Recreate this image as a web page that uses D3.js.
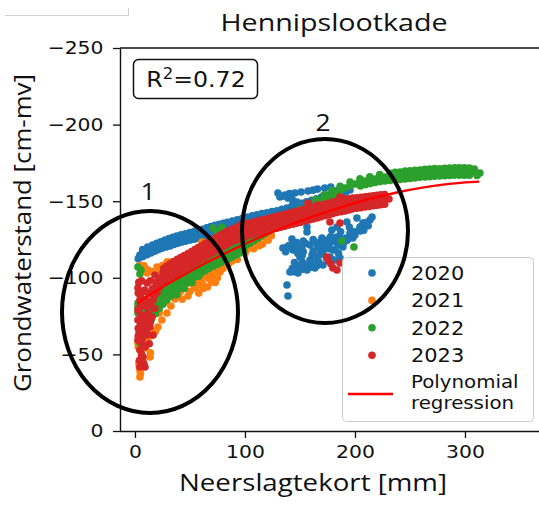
<!DOCTYPE html>
<html>
<head>
<meta charset="utf-8">
<script src="https://cdn.jsdelivr.net/npm/d3@7"></script>
<style>
  html, body { margin: 0; padding: 0; background: #fff; }
  svg { display: block; }
</style>
</head>
<body>
<svg id="chart" width="539" height="505"></svg>
<script>
// ---- Data -------------------------------------------------------------
const title = "Hennipslootkade";
const xLabel = "Neerslagtekort [mm]";
const yLabel = "Grondwaterstand [cm-mv]";
const xTicks = [0, 100, 200, 300];
const yTicks = [0, -50, -100, -150, -200, -250];
const years = ["2020", "2021", "2022", "2023"];
const yearColors = ["#1f77b4", "#ff7f0e", "#2ca02c", "#d62728"];
const rSquared = "0.72";

// [neerslagtekort (mm), grondwaterstand (cm-mv)]
const points2020 = [
  [4.5,-114.9],[9.1,-117.5],[13.6,-118.8],[20,-120.1],[27.3,-122.1],[34.5,-123.4],[41.8,-125.3],[50,-126.6],[57.3,-127.9],[65.5,-129.2],
  [72.7,-131.2],[80,-132.5],[88.2,-133.8],[98.2,-135.8],[106.4,-137.7],[115.5,-139],[124.5,-140.3],[133.6,-141.6],[142.7,-143.6],
  [151.8,-145.6],[160.9,-147.5],[170,-149.5],[179,-152],[188,-154.7],[195.5,-157.3],
  [6.8,-116.2],[11.4,-118.1],[16.8,-119.5],[23.6,-121.1],[30.9,-122.8],[38.2,-124.4],[45.9,-126],[53.6,-127.3],[61.4,-128.6],[69.1,-130.2],
  [76.4,-131.9],[84.1,-133.2],[93.2,-134.8],[102.3,-136.8],[111,-138.4],[120,-139.7],[129,-141],[138.2,-142.6],[147.3,-144.6],
  [156.4,-146.6],[165.5,-148.5],[174.5,-150.8],[183.5,-153.4],[191.8,-156],
  [7,-118.5],[16,-121.4],[23.5,-123.5],[31,-125.6],[38,-127.2],[46,-128.8],[54,-130.3],[61.5,-131.7],[69,-133.4],[76.5,-135],
  [84,-136.2],[93,-137.8],[102,-139.6],[111,-141.2],[120,-142.5],[129,-143.8],[138,-145.5],[147,-147.6],[156,-149.6],[165,-151.6],
  [174.5,-154],[183.5,-156.8],
  [11.5,-120],[19.8,-122.5],[27.3,-124.6],[34.5,-126.4],[42,-128],[50,-129.6],[57.8,-131],[65.3,-132.6],[72.8,-134.2],[80.3,-135.6],
  [88.5,-137],[97.5,-138.7],[106.5,-140.4],[115.5,-141.9],[124.5,-143.2],[133.5,-144.7],[142.5,-146.6],[151.5,-148.6],[160.5,-150.6],
  [169.8,-152.8],[179,-155.4],
  [3,-112.5],[11,-115],[18,-117.3],[25,-119.4],[32,-120.8],[39,-122.6],[46,-123.9],[54,-125.2],[61,-126.4],[69,-128],[76,-129.5],
  [84,-130.8],[92,-132.1],[101,-133.6],
  [7,-113.8],[14.5,-116.2],[21.5,-118.4],[28.5,-120.1],[35.5,-121.7],[42.5,-123.3],[50,-124.6],[57.5,-125.8],[65,-127.2],[72.5,-128.8],
  [80,-130.2],[88,-131.5],[96.5,-132.9],
  [130,-155.4],[145.5,-155.4],[157.3,-156.7],[166,-157.9],[172.5,-158.6],[178,-159.3],[131.8,-152.7],[139,-152.1],[147.3,-149.5],
  [156.4,-147.5],[136.5,-154],[140.5,-155],[151,-156],[162,-157.2],[134,-153.2],[152,-148.5],[143,-151],
  [156.4,-133.2],[156.4,-129.9],[142.7,-125.3],[138.2,-120.1],[143.6,-118.1],[151.8,-120.1],[159.1,-121.4],[168.2,-123.4],[177.3,-126],
  [183.6,-126.6],[150,-113.6],[159.1,-111.6],[165.5,-113.6],[170.9,-116.2],[156.4,-108.4],[147.3,-107],[140.9,-103.8],[148.2,-103.1],
  [156.4,-105.1],[163.6,-106.4],[170.9,-108.4],[179,-111.6],[186.4,-112.9],[138.2,-95.3],[139.1,-88.1],[134.5,-119.5],
  [177.3,-122.7],[186.4,-126],[195.5,-129.2],[204.5,-133.2],[213.6,-137.7],[215.5,-139.7],[180,-118.1],[189,-120.1],[179,-131.2],
  [183.6,-133.2],[192.7,-136.4],[201.8,-139],[177.3,-113.6],[181.8,-111.6],[207.3,-135.8],
  [145,-122],[148,-116],[153,-117],[162,-117.5],[166,-120],[173,-120.5],[145,-110],[152,-110.5],[160,-109],[167,-110.5],[174,-113],
  [137,-117],[190,-123],[198,-126],[208,-131],[212,-134],[174,-124.5],[187,-130],[195,-133],
  [143,-106],[150,-108],[161,-112],[168,-115],[176,-119],[184,-122.5],[192,-126],[200,-130],[206,-133.5],[210,-136],
  [140,-121],[147,-123],[153,-124],[162,-125],[170,-126],[178,-127],
  [144,-104],[152,-105.5],[160,-107],[166,-108.2],[152,-114.5],[161,-115],[169,-118],[147,-119.5],[155,-122.5],[163,-123.5],
  [171,-121.8],[179,-124],[186,-121.5],[193,-124.5],[200,-128],[205,-130.5],[185,-116],[182,-118.5]
];

const points2021 = [
  [4.5,-35.2],[4.5,-39.8],[3.6,-44.4],[4.5,-52.9],[2.7,-57.4],[9.1,-54.2],[11.8,-60.7],[13.6,-48.3],[7,-46],
  [5,-37.5],[4,-42],[6,-49],[3,-55],[10,-57],[14,-51],[12,-64],
  [16.4,-62.7],[18.5,-65],[20.9,-67.9],[24.5,-72.5],[29.1,-77],[32.7,-81.6],[36.4,-86.2],[40.9,-90.7],[22,-77],[27,-84],
  [9.1,-106.4],[10.9,-103.1],[11.8,-105.1],[22.7,-105.1],[29.1,-110.3],[31.8,-110.3],[29.1,-103.8],[25,-108],[4,-108],
  [8,-108],[15,-104],[20,-107],
  [45.5,-95.3],[50,-99.9],[57.3,-103.8],[63.6,-99.9],[68.2,-105.1],[72.7,-108.4],[77.3,-103.8],[54.5,-93.3],[61.8,-95.3],
  [48.2,-88.1],[70,-97.3],[81.8,-110.3],[86.4,-112.9],[90.9,-114.9],[97.3,-118.1],[104.5,-120.8],[111.8,-123.4],[119.1,-126],
  [42,-92],[52,-96],[58,-90],[66,-94],[75,-100],[80,-106],[85,-109],[93,-112],[100,-116],[108,-119],[116,-122],[37,-96],
  [44,-100],[38,-102],[33,-97],[60.9,-123.4],[65,-122.5],[56.4,-108.4],[29.1,-87.5],[38.2,-95.3],
  [47,-97.5],[53,-102],[60,-106],[65,-103],[71,-101.5],[74,-104.5],[79,-108],[83,-112],[88,-110.8],[95,-116.5],[102,-118.5],
  [106,-122],[113,-121],[121,-124.5],[124,-127.5],[40,-94.5],[35,-92],[50,-91],[56,-95],[62,-93],[68,-99],[73,-97],[59,-98],
  [46,-102],[52,-106],[41,-105],[35,-101],[31,-99],[43,-86],[39,-88]
];

const points2022 = [
  // near-zero deficit
  [2.7,-107],[5.5,-105.1],[4.5,-102.5],[2.7,-80.9],[2.7,-77],[3.6,-64],[4.5,-57.4],[10.9,-75.7],[8,-78],[6,-70],[2.7,-83.5],
  // rising band
  [13.6,-77],[17,-80],[20.5,-83],[24,-86],[27.5,-88.5],[31,-91],[34.5,-93.3],[38,-95.5],[41.5,-97.5],[45,-99.5],[48.5,-101.4],
  [52,-103.2],[55.5,-104.8],[59,-106.3],[62.5,-107.7],[66,-109],[69.5,-110.2],[73,-111.4],[76.5,-112.5],[80,-113.6],[83.5,-114.8],
  [87,-116],[90.5,-117.2],[94,-118.5],[97.5,-119.8],[101,-121.2],[104.5,-122.6],[108,-124.2],[111.5,-125.7],[115,-127.3],
  [118.5,-129],[122,-130.6],
  [15.5,-82],[19,-85],[22.5,-88],[26,-90.8],[29.5,-93.3],[33,-95.6],[36.5,-97.8],[40,-99.9],[43.5,-101.9],[47,-103.8],[50.5,-105.6],
  [54,-107.3],[57.5,-108.9],[61,-110.3],[64.5,-111.7],[68,-113],[71.5,-114.2],[75,-115.4],[78.5,-116.5],[82,-117.6],[85.5,-118.8],
  [89,-120],[92.5,-121.3],[96,-122.6],[99.5,-124],[103,-125.5],[106.5,-127],[110,-128.6],[113.5,-130.3],[117,-132],[120.5,-133.5],
  [15,-73],[18.5,-76.5],[22,-79.8],[25.5,-82.8],[29,-85.5],[32.5,-88],[36,-90.3],[39.5,-92.5],[43,-94.6],[46.5,-96.5],[50,-98.4],
  [53.5,-100.2],[57,-101.9],[60.5,-103.4],[64,-104.8],[67.5,-106.2],[71,-107.5],[74.5,-108.7],[78,-109.9],[81.5,-111.1],
  [85,-112.3],[88.5,-113.6],[92,-114.9],[95.5,-116.3],[99,-117.7],
  [45,-93],[52,-97],[38,-89],[58,-101],
  // upper band towards the largest deficits
  [124.5,-131.9],[128.2,-133.2],[131.8,-134.5],[135.5,-135.8],[139.1,-137.1],[142.8,-138.4],[146.4,-139.7],[150,-141.4],[153.6,-143],
  [157.3,-144.6],[160.9,-146.2],[164.6,-147.9],[168.2,-149.5],[171.9,-151.1],[175.5,-152.7],[179.1,-154],[182.7,-155.4],[186.8,-157],
  [190.9,-158.6],[195.5,-159.9],[200,-161.2],[204.5,-162.2],[209.1,-163.2],[213.7,-163.9],[218.2,-164.5],[222.8,-165.2],
  [227.3,-165.8],[231.9,-166.1],[236.4,-166.4],[241,-166.8],[245.5,-167.1],[250,-167.5],[254.5,-167.8],[259,-168.1],[263.6,-168.4],
  [268.2,-168.4],[272.7,-168.4],[277.3,-168.8],[281.8,-169.1],[286.4,-169.1],[290.9,-169.1],[295.5,-169.1],[300,-169.1],
  [304.5,-169.1],[309.1,-169.1],[313.6,-168.4],
  [128,-136.2],[135.5,-138.8],[142.5,-141.5],[150,-144.5],[157,-147.8],[164.5,-151],[172,-154.2],[179,-157],[186.5,-159.8],
  [195.5,-162.5],[204.5,-164.6],[213.5,-166],[222.5,-167.4],[232,-168.2],[241,-169],[250,-169.8],[259,-170.4],[268,-171],
  [277,-171.2],[286,-171.6],[295,-171.8],[304,-171.6],
  [236.5,-168.8],[245.5,-169.6],[254.5,-170.2],[263.5,-170.8],[272.5,-171.3],[281.5,-171.5],[290.5,-171.8],[299.5,-171.8],[308.5,-171],
  [205,-160],[214,-161.5],[223,-162.8],[232,-163.5],[241,-164.2],[250,-164.8],[259,-165.6],[268,-166],[277,-166.5],[286,-166.8],
  [295,-167],[304,-167],[311,-166.8],
  [209.5,-160.8],[218.5,-162.2],[227.5,-163.2],[236.5,-164],[245.5,-164.5],[254.5,-165.2],[263.5,-165.8],[272.5,-166.3],
  [281.5,-166.6],[290.5,-167],[299.5,-167],
  [70.9,-132.5],[79.1,-133.2],[74.5,-129.9],[188.2,-124],[199.1,-120.1]
];

const points2023 = [
  [2.7,-93.3],[4.5,-85.5],[2.7,-79],[6.4,-74.4],[2.7,-72.5],[10.9,-72.5],[7.3,-67.9],[13.6,-67.9],[4.5,-64],[11.8,-62.7],
  [16.4,-62.7],[9.1,-54.8],[7.3,-48.3],[4.5,-41.8],[9.1,-41.8],[2.7,-59.4],[15.5,-74.4],[10.9,-80.9],[16.4,-85.5],[20,-90.1],
  [22.7,-94],[22.7,-98.6],[18.2,-101.8],[25.5,-103.1],[10.9,-96.6],[6.4,-90.7],[4.5,-81],[4.5,-53],[6,-58],[8,-70],[12,-77],
  [14,-83],[8,-86],[3,-67],[5,-76],[13,-57],[18,-80],[20,-95],[6,-98],[3.5,-97],
  [5,-88],[3,-90],[7,-82],[9,-75],[11,-69],[5,-70],[3,-62],[7,-61],[10,-65],[14,-71],[6,-50],[8,-44],[4,-46],[12,-90],[16,-93],
  [14,-98],[19,-97],[9,-92],[11,-85],[17,-88],
  [22.7,-99.9],[29.1,-103.1],[35.5,-106.4],[41.8,-109],[48.2,-111.6],[54.5,-114.2],[60.9,-116.8],[67.3,-119.5],[73.6,-122.1],
  [80,-124.7],[86.4,-127.3],[92.7,-129.2],[100,-131.2],[107.3,-132.5],[114.5,-133.8],[121.8,-135.1],[129.1,-136.4],[136.4,-137.7],
  [143.6,-139],[150.9,-140.3],[158.2,-141.6],[165.5,-143],[172.7,-144.3],[180,-145.6],[187.3,-146.9],[194.5,-147.5],[201.8,-148.8],
  [209.1,-149.5],[216.4,-150.1],[223.6,-150.8],[230.9,-151.4],
  [25.9,-101.5],[32.3,-104.8],[38.7,-107.7],[45,-110.3],[51.4,-112.9],[57.7,-115.5],[64.1,-118.2],[70.5,-120.8],[76.8,-123.4],
  [83.2,-126],[89.6,-128.3],[96.4,-130.2],[103.7,-131.9],[110.9,-133.2],[118.2,-134.5],[125.5,-135.8],[132.8,-137.1],[140,-138.4],
  [147.3,-139.7],[154.6,-141],[161.9,-142.3],[169.1,-143.7],[176.4,-145],[183.7,-146.3],[190.9,-147.2],[198.2,-148.2],[205.5,-149.2],
  [212.8,-149.8],[220,-150.5],[227.3,-151.1],
  [26,-106],[32,-109.2],[38.5,-112],[45,-114.6],[51.5,-117.2],[57.5,-119.8],[64,-122.4],[70.5,-125],[77,-127.6],[83,-130],
  [89.5,-132.2],[96,-134.2],[103.5,-135.6],[111,-137],[118,-138.2],[125.5,-139.6],[132.5,-140.8],[140,-142.2],[147,-143.4],
  [154.5,-144.8],[162,-146],[169,-147.5],[176.5,-148.8],[183.5,-150],[191,-151],[198,-152],[205.5,-152.6],[213,-153.2],
  [220,-153.8],[227,-154.4],
  [29,-107.6],[35.3,-110.6],[41.8,-113.3],[48.3,-115.9],[54.5,-118.5],[60.8,-121.1],[67.3,-123.7],[73.8,-126.3],[80,-128.8],
  [86.3,-131.1],[92.8,-133.2],[99.8,-134.9],[107.3,-136.3],[114.5,-137.6],[121.8,-138.9],[129,-140.2],[136.3,-141.5],[143.5,-142.8],
  [150.8,-144.1],[158.3,-145.4],[165.5,-146.8],[172.8,-148.2],[180,-149.4],[187.3,-150.5],[194.5,-151.5],[201.8,-152.3],
  [209.3,-152.9],[216.5,-153.5],[223.5,-154.1],
  [26,-97.5],[32,-100.5],[38.5,-103.2],[45,-106],[51.5,-108.5],[57.5,-111],[64,-113.6],[70.5,-116.4],[77,-119],[83,-121.6],
  [89.5,-124],[96,-125.8],[103.5,-127.6],[111,-129.2],[118,-130.6],[125.5,-131.8],[132.5,-133],[140,-134.4],[147,-135.6],
  [154.5,-137],[162,-138.4],[169,-139.8],[176.5,-141.2],[183.5,-142.6],[191,-143.6],[198,-145],[205.5,-145.8],[213,-146.6],
  [220,-147.4],[227,-148],
  [29,-99],[35.3,-101.9],[41.8,-104.6],[48.3,-107.3],[54.5,-109.8],[60.8,-112.3],[67.3,-115],[73.8,-117.7],[80,-120.3],
  [86.3,-122.8],[92.8,-124.9],[99.8,-126.7],[107.3,-128.4],[114.5,-129.9],[121.8,-131.2],[129,-132.4],[136.3,-133.7],[143.5,-135],
  [150.8,-136.3],[158.3,-137.7],[165.5,-139.1],[172.8,-140.5],[180,-141.9],[187.3,-143.1],[194.5,-144.3],[201.8,-145.4],
  [209.3,-146.2],[216.5,-147],[223.5,-147.7],
  [157.3,-148.8],[165.5,-147.5],[186.4,-152.7],[190.9,-151.4],[186.4,-135.8],[177.3,-136.4],
  [174.5,-113.6],[178.2,-109],[183.6,-105.1],[180,-106.4],[186.4,-109.7],[176,-111]
];

// Fitted polynomial regression
const regressionX = [2, 20, 40, 60, 80, 100, 120, 140, 160, 180, 200, 220, 240, 260, 280, 300, 313];
const regressionY = [-83.3, -91.8, -100.1, -108, -115.3, -122.1, -128.4, -134.3, -139.6, -144.4, -148.8, -152.6, -156, -158.7, -160.8, -162.3, -162.8];

const seriesPoints = [points2020, points2021, points2022, points2023];

// ---- Layout -----------------------------------------------------------
const svg = d3.select("#chart");
const plotLeft = 120, plotTop = 48, plotBottom = 431;
const stretch = 1.1;   // horizontal widening applied to the lettering

const x = d3.scaleLinear().domain([-13.6, 380]).range([plotLeft, plotLeft + 393.6 * 1.1]);
const y = d3.scaleLinear().domain([0, -250]).range([plotBottom, plotTop]);

const tickFont = "'DejaVu Sans', sans-serif";
const labelFont = "'Open Sans', 'Noto Sans', sans-serif";

// text placed at (px, py) and widened horizontally around its anchor
function label(parent, px, py, str, font, size, anchor) {
  return parent.append("text")
    .attr("transform", `translate(${px},${py}) scale(${stretch},1)`)
    .attr("text-anchor", anchor || "start")
    .style("font-family", font).style("font-size", size + "px")
    .attr("fill", "#111")
    .text(str);
}

// thin frame remnant in the upper-left corner
svg.append("path")
  .attr("d", "M5,15.5H128.5V8")
  .attr("fill", "none").attr("stroke", "#cfcfcf").attr("stroke-width", 1);

// ---- Scatter points -----------------------------------------------------
const pts = svg.append("g").attr("class", "points");
seriesPoints.forEach((data, i) => {
  pts.append("g")
    .attr("fill", yearColors[i])
    .selectAll("circle")
    .data(data)
    .join("circle")
    .attr("cx", d => x(d[0]))
    .attr("cy", d => y(d[1]))
    .attr("r", 3.8);
});

// ---- Regression curve ---------------------------------------------------
const regression = regressionX.map((v, i) => [v, regressionY[i]]);
svg.append("path")
  .datum(regression)
  .attr("fill", "none")
  .attr("stroke", "#ff0000")
  .attr("stroke-width", 2.4)
  .attr("d", d3.line().x(d => x(d[0])).y(d => y(d[1])).curve(d3.curveMonotoneX));

// ---- Axes ---------------------------------------------------------------
const xAxis = svg.append("g")
  .attr("transform", `translate(0,${plotBottom})`)
  .call(d3.axisBottom(x).tickValues(xTicks).tickSize(7).tickSizeOuter(0).tickPadding(7));
const yAxis = svg.append("g")
  .attr("transform", `translate(${plotLeft},0)`)
  .call(d3.axisLeft(y).tickValues(yTicks).tickSize(7).tickSizeOuter(0).tickPadding(8));

[xAxis, yAxis].forEach(g => {
  g.select(".domain").attr("stroke", "#111").attr("stroke-width", 1.4);
  g.selectAll(".tick line").attr("stroke", "#111").attr("stroke-width", 1.3);
  g.selectAll(".tick text").attr("fill", "#111")
    .attr("transform", `scale(${stretch},1)`)
    .style("font-family", tickFont).style("font-size", "18.5px");
});
// x-axis spine extends across the whole visible width
xAxis.select(".domain").attr("d", `M${plotLeft},0.5H539`);

// top spine
svg.append("line")
  .attr("x1", plotLeft).attr("x2", 539)
  .attr("y1", plotTop).attr("y2", plotTop)
  .attr("stroke", "#111").attr("stroke-width", 1.4);

// ---- Titles ------------------------------------------------------------
svg.append("text")
  .attr("x", 334).attr("y", 31)
  .attr("text-anchor", "middle")
  .attr("textLength", 227).attr("lengthAdjust", "spacingAndGlyphs")
  .style("font-family", labelFont).style("font-size", "24px").attr("fill", "#111")
  .text(title);

svg.append("text")
  .attr("x", 313).attr("y", 491)
  .attr("text-anchor", "middle")
  .attr("textLength", 268).attr("lengthAdjust", "spacingAndGlyphs")
  .style("font-family", labelFont).style("font-size", "24px").attr("fill", "#111")
  .text(xLabel);

svg.append("text")
  .attr("transform", "translate(31,233) rotate(-90)")
  .attr("text-anchor", "middle")
  .attr("textLength", 318).attr("lengthAdjust", "spacingAndGlyphs")
  .style("font-family", labelFont).style("font-size", "24px").attr("fill", "#111")
  .text(yLabel);

// ---- R² box --------------------------------------------------------------
svg.append("rect")
  .attr("x", 133.5).attr("y", 59.5).attr("width", 124).attr("height", 39).attr("rx", 5)
  .attr("fill", "#fff").attr("stroke", "#111").attr("stroke-width", 1.5);
const rText = label(svg, 196, 87, null, tickFont, 21.5, "middle");
rText.append("tspan").text("R");
rText.append("tspan").attr("dy", -8).style("font-size", "15px").text("2");
rText.append("tspan").attr("dy", 8).text("=" + rSquared);

// ---- Legend ------------------------------------------------------------
const legend = svg.append("g");
legend.append("rect")
  .attr("x", 342.5).attr("y", 257.5).attr("width", 191).attr("height", 164).attr("rx", 4)
  .attr("fill", "#fff").attr("fill-opacity", 0.8)
  .attr("stroke", "#cccccc").attr("stroke-width", 1);
years.forEach((yr, i) => {
  const cy = 273 + i * 27.4;
  legend.append("circle").attr("cx", 372).attr("cy", cy).attr("r", 3.8).attr("fill", yearColors[i]);
  label(legend, 411, cy + 7, yr, tickFont, 19, "start");
});
legend.append("line")
  .attr("x1", 348).attr("x2", 393).attr("y1", 394).attr("y2", 394)
  .attr("stroke", "#ff0000").attr("stroke-width", 2.4);
label(legend, 411, 387.5, "Polynomial", tickFont, 18, "start");
label(legend, 411, 409, "regression", tickFont, 18, "start");

// ---- Cluster annotations -------------------------------------------------
const clusters = [
  { label: "1", cx: 150, cy: 312, rx: 88, ry: 101, lx: 148, ly: 200 },
  { label: "2", cx: 325, cy: 231, rx: 83, ry: 92, lx: 323, ly: 131 }
];
clusters.forEach(c => {
  svg.append("ellipse")
    .attr("cx", c.cx).attr("cy", c.cy).attr("rx", c.rx).attr("ry", c.ry)
    .attr("fill", "none").attr("stroke", "#000").attr("stroke-width", 4);
  label(svg, c.lx, c.ly, c.label, labelFont, 24, "middle");
});
</script>
</body>
</html>
